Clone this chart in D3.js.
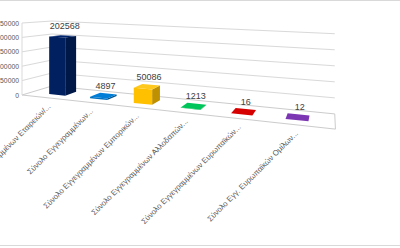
<!DOCTYPE html>
<html><head><meta charset="utf-8">
<script src="https://cdn.jsdelivr.net/npm/d3@7"></script>
<style>html,body{margin:0;padding:0;background:#fff;overflow:hidden}</style>
</head><body><svg id="c" width="400" height="248"></svg>
<script>
const categories = [
  "Σύνολο Εγγεγραμμένων Εταιρειών/...",
  "Σύνολο Εγγεγραμμένων...",
  "Σύνολο Εγγεγραμμένων  Εμπορικών...",
  "Σύνολο Εγγεγραμμένων Αλλοδαπών...",
  "Σύνολο Εγγεγραμμένων Ευρωπαϊκών...",
  "Σύνολο Εγγ. Ευρωπαϊκών Ομίλων..."
];
const values = [202568, 4897, 50086, 1213, 16, 12];
const colors = ["#002060", "#0070C0", "#FFC000", "#00B050", "#C00000", "#7030A0"];
const yTicks = [0, 50000, 100000, 150000, 200000, 250000];

const svg = d3.select("#c");
svg.append("rect").attr("width",400).attr("height",248).attr("fill","#fff");

// perspective projection: t = category position (0..1), w = depth (0 front..1 back), h = value fraction
const P = {x0:22, y0:95, S:72, c:-0.21, d:0.108, ax:243, ay:7, bx:35.6, by:0.29};
function proj(t, w, h) {
  const W = 1 + P.c*t + P.d*w;
  return [(P.x0 + P.ax*t + P.bx*w)/W, (P.y0 + P.ay*t + P.by*w - P.S*h)/W];
}
const x = d3.scaleBand().domain(categories).range([0.15/6.3, 6.15/6.3]).paddingInner(0.6).paddingOuter(0.3);
const y = d3.scaleLinear().domain([0, 250000]).range([0, 1]);
const line = d3.line();
const grid = "#d9d9d9";

// floor
svg.append("path").attr("d", line([proj(0,0,0),proj(1,0,0),proj(1,1,0),proj(0,1,0)]) + "Z")
  .attr("fill","#fff").attr("stroke","#cccccc").attr("stroke-width",1);
// gridlines: side wall + back wall
yTicks.forEach(v => {
  const h = y(v);
  if (v > 0) svg.append("path").attr("d", line([proj(0,0,h),proj(0,1,h),proj(1,1,h)]))
    .attr("fill","none").attr("stroke",grid).attr("stroke-width",1);
});
svg.append("path").attr("d", line([proj(0,0,0),proj(0,0,1)])).attr("stroke","#d9d9d9").attr("stroke-width",1);

// tick labels
yTicks.forEach(v => {
  const p = proj(0,0,y(v));
  svg.append("text").attr("x", p[0]-3).attr("y", p[1]+2.5).attr("text-anchor","end")
    .attr("font-family","Liberation Sans, Arial, sans-serif").attr("font-size",6.8).attr("fill","#595959").text(v);
});

function shade(col, k) { const c = d3.hsl(col); c.l = Math.max(0, Math.min(1, c.l*k)); return c.formatHex(); }
const w1 = 0.3, w2 = 0.7;
categories.forEach((cat, i) => {
  const t1 = x(cat), t2 = x(cat) + x.bandwidth(), h = y(values[i]);
  const g = svg.append("g");
  const col = colors[i];
  g.append("path").attr("d", line([proj(t2,w1,0),proj(t2,w2,0),proj(t2,w2,h),proj(t2,w1,h)])+"Z").attr("fill", shade(col,0.75));
  g.append("path").attr("d", line([proj(t1,w1,0),proj(t2,w1,0),proj(t2,w1,h),proj(t1,w1,h)])+"Z").attr("fill", col);
  g.append("path").attr("d", line([proj(t1,w1,h),proj(t2,w1,h),proj(t2,w2,h),proj(t1,w2,h)])+"Z").attr("fill", shade(col,1.12));
  const tc = (t1+t2)/2, top = proj(tc, 0.5, h);
  svg.append("text").attr("x", top[0]+2).attr("y", top[1]-7).attr("text-anchor","middle")
    .attr("font-family","Liberation Sans, Arial, sans-serif").attr("font-size",9).attr("fill","#404040").text(values[i]);
  const f = proj(tc, 0, 0);
  svg.append("text").attr("transform", `translate(${f[0]+3},${f[1]+9}) rotate(-45)`).attr("text-anchor","end")
    .attr("font-family","Liberation Sans, Arial, sans-serif").attr("font-size",7.8).attr("fill","#595959").text(cat);
});
svg.append("line").attr("x1",0).attr("x2",400).attr("y1",0.5).attr("y2",0.5).attr("stroke","#d9d9d9");
svg.append("line").attr("x1",0).attr("x2",400).attr("y1",245.5).attr("y2",245.5).attr("stroke","#d9d9d9");
</script></body></html>
